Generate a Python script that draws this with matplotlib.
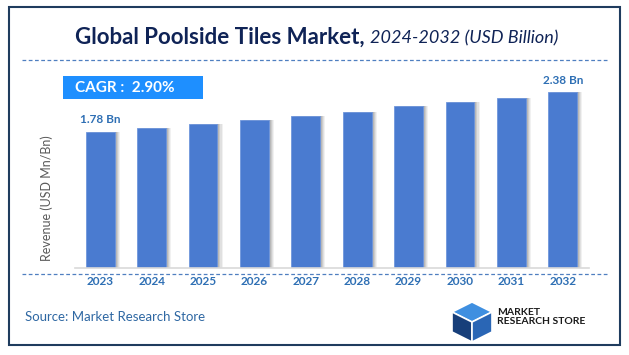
import numpy as np
import matplotlib.pyplot as plt
from matplotlib.patches import Rectangle, Polygon
from matplotlib.lines import Line2D

# chart data
YEARS = ["2023", "2024", "2025", "2026", "2027", "2028", "2029", "2030", "2031", "2032"]
REVENUE = [1.78, 1.84, 1.90, 1.96, 2.02, 2.08, 2.17, 2.23, 2.30, 2.38]
LABELS = {0: "1.78 Bn", 9: "2.38 Bn"}
CAGR_TEXT = "CAGR :  2.90%"
Y0 = -0.30   # hidden axis floor, bars grow from here

W, H = 629, 355
BAR_COLOR = "#4a7bd0"
LABEL_BLUE = "#2e6fb4"

plt.rcParams['font.family'] = ['Lato', 'DejaVu Sans']

fig = plt.figure(figsize=(W / 100, H / 100), dpi=100)
fig.patch.set_facecolor("white")


def fx(x):
    return x / W


def fy(y):
    return 1 - y / H


# plot area: x 74.5..588.5 px, y 80..268 px
ax = fig.add_axes([fx(74.5), fy(268), fx(514), (268 - 80) / H])
x = np.arange(len(YEARS))
vals = np.array(REVENUE)

# soft grey shadow to the right of each bar
for off, a in [(0.10, 0.10), (0.08, 0.15), (0.06, 0.2), (0.04, 0.25)]:
    ax.bar(x + off, vals - Y0, bottom=Y0, width=0.56, color="#7f7f7f",
           alpha=a, linewidth=0, zorder=1)
ax.bar(x, vals - Y0, bottom=Y0, width=0.56, color=BAR_COLOR,
       edgecolor="#6f96dc", linewidth=0.6, zorder=2)

for i, txt in LABELS.items():
    ax.annotate(txt, (x[i], vals[i]), xytext=(0, 5), textcoords="offset points",
                ha="center", va="bottom", fontsize=8.5, fontweight="bold",
                color=LABEL_BLUE)

ax.set_xlim(-0.5, len(YEARS) - 0.5)
ax.set_ylim(Y0, Y0 + 188 / 65.5)
ax.set_xticks(x)
ax.set_xticklabels(YEARS, fontsize=8.5, fontweight="bold", color=LABEL_BLUE)
ax.tick_params(axis="x", length=0, pad=6)
ax.set_yticks([])
for s in ["top", "right", "left"]:
    ax.spines[s].set_visible(False)
ax.spines["bottom"].set_color("#d9d9d9")
ax.spines["bottom"].set_linewidth(1.2)
ax.set_facecolor("none")

# y label
fig.text(fx(47), fy(198), "Revenue (USD Mn/Bn)", rotation=90, ha="center",
         va="center", fontsize=9, color="#595959")

# outer border
fig.add_artist(Rectangle((fx(9), fy(345)), fx(611), (345 - 7) / H,
                         transform=fig.transFigure, fill=False,
                         edgecolor="#1f3c5e", linewidth=1.5))

# dashed separators
for yy in [60, 274]:
    fig.add_artist(Line2D([fx(22), fx(608)], [fy(yy), fy(yy)],
                          transform=fig.transFigure, color="#4f7fc0",
                          linestyle=(0, (3, 2)), linewidth=0.9))

# title
t1 = fig.text(fx(75), fy(37), "Global Poolside Tiles Market,", ha="left",
              va="center", fontsize=16, fontweight="bold", color="#0f2356")
fig.canvas.draw()
bb = t1.get_window_extent()
fig.text(bb.x1 / W + fx(5), fy(38), "2024-2032 (USD Billion)", ha="left",
         va="center", fontsize=13, style="italic", color="#0f2356")

# CAGR box
fig.add_artist(Rectangle((fx(63), fy(99)), fx(140), 23 / H,
                         transform=fig.transFigure, facecolor="#1e8fff",
                         edgecolor="none"))
fig.text(fx(75), fy(87.5), CAGR_TEXT, ha="left", va="center", fontsize=11,
         fontweight="bold", color="white")

# source
fig.text(fx(25), fy(317), "Source: Market Research Store", ha="left",
         va="center", fontsize=9.5, color="#2f68a3")

# logo: small isometric cube
cx, cy = 472, 322
s = 20
top = [(cx, cy - s), (cx + s, cy - s / 2), (cx, cy), (cx - s, cy - s / 2)]
left = [(cx - s, cy - s / 2), (cx, cy), (cx, cy + s), (cx - s, cy + s / 2)]
right = [(cx, cy), (cx + s, cy - s / 2), (cx + s, cy + s / 2), (cx, cy + s)]
for pts, col in [(top, "#3f8fe0"), (left, "#173f7a"), (right, "#2a66b5")]:
    fig.add_artist(Polygon([(fx(px), fy(py)) for px, py in pts],
                           closed=True, transform=fig.transFigure,
                           facecolor=col, edgecolor="white", linewidth=1.2))
fig.text(fx(497), fy(317), "MARKET\nRESEARCH STORE", ha="left", va="center",
         fontsize=7.5, fontweight="bold", color="#1a1a1a", linespacing=0.9)

fig.savefig("out.png", dpi=100)
